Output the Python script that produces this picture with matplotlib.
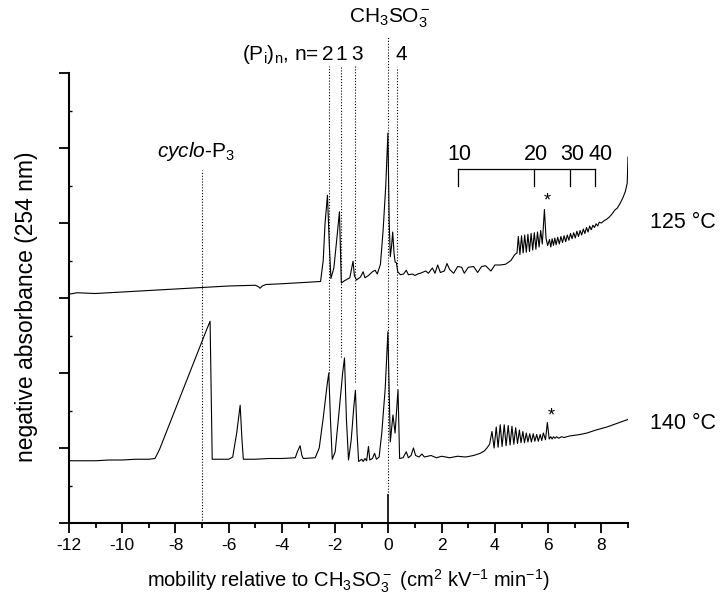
import matplotlib
matplotlib.use('Agg')
import matplotlib.pyplot as plt
from matplotlib.ticker import MultipleLocator

# Fonts: Arial-like text everywhere, mathtext in the same face
plt.rcParams['font.family'] = ['Liberation Sans', 'DejaVu Sans']
plt.rcParams['mathtext.fontset'] = 'custom'
plt.rcParams['mathtext.rm'] = 'Liberation Sans'
plt.rcParams['mathtext.it'] = 'Liberation Sans:italic'
plt.rcParams['mathtext.default'] = 'regular'
plt.rcParams['axes.unicode_minus'] = False

# Electropherogram at 125 °C (mobility, signal)
mob_125 = [-12.0, -11.7, -11.0, -10.0, -9.0, -8.0, -7.0, -6.0, -5.0, -4.88, -4.82, -4.74,
           -4.6, -4.0, -3.0, -2.55, -2.45, -2.38, -2.29, -2.22, -2.16, -2.05, -1.95, -1.84,
           -1.8, -1.77, -1.65, -1.45, -1.38, -1.33, -1.28, -1.2, -1.05, -0.95, -0.88, -0.75,
           -0.6, -0.5, -0.42, -0.3, -0.2, -0.1, -0.02, 0.03, 0.07, 0.12, 0.16, 0.21, 0.25,
           0.3, 0.35, 0.45, 0.57, 0.67, 0.75, 0.9, 1.0, 1.1, 1.2, 1.4, 1.5, 1.65, 1.75, 1.85,
           1.95, 2.1, 2.2, 2.3, 2.45, 2.6, 2.75, 2.85, 3.0, 3.2, 3.35, 3.5, 3.65, 3.85, 4.0,
           4.2, 4.4, 4.6, 4.75, 4.83, 4.88, 4.94, 5.0, 5.06, 5.12, 5.18, 5.24, 5.3, 5.36,
           5.42, 5.48, 5.54, 5.6, 5.66, 5.72, 5.78, 5.86, 5.92, 5.98, 6.05, 6.1, 6.15, 6.2,
           6.25, 6.3, 6.36, 6.42, 6.48, 6.54, 6.6, 6.66, 6.72, 6.78, 6.84, 6.9, 6.96, 7.02,
           7.08, 7.14, 7.2, 7.26, 7.32, 7.38, 7.44, 7.5, 7.56, 7.62, 7.68, 7.74, 7.8, 7.86,
           7.92, 8.0, 8.1, 8.2, 8.3, 8.4, 8.5, 8.6, 8.7, 8.8, 8.9, 8.97, 9.0]
abs_125 = [3.05, 3.07, 3.06, 3.08, 3.10, 3.12, 3.14, 3.16, 3.17, 3.15, 3.13, 3.16,
           3.18, 3.19, 3.21, 3.22, 3.5, 4.0, 4.37, 3.7, 3.26, 3.4, 3.75, 4.15,
           3.6, 3.2, 3.23, 3.27, 3.4, 3.49, 3.3, 3.24, 3.28, 3.35, 3.27, 3.3,
           3.35, 3.37, 3.32, 3.45, 3.9, 4.5, 5.2, 4.0, 3.55, 3.7, 3.88, 3.6, 3.48,
           3.47, 3.35, 3.31, 3.32, 3.37, 3.31, 3.32, 3.3, 3.32, 3.33, 3.36, 3.33, 3.40, 3.33, 3.44,
           3.34, 3.36, 3.46, 3.38, 3.33, 3.42, 3.41, 3.33, 3.41, 3.42, 3.34, 3.42, 3.43, 3.36, 3.44,
           3.44, 3.45, 3.5, 3.58, 3.6, 3.82, 3.58, 3.83, 3.6, 3.84, 3.61, 3.85, 3.62, 3.86,
           3.64, 3.87, 3.65, 3.88, 3.68, 3.9, 3.72, 4.18, 3.8, 3.7, 3.78, 3.68, 3.79, 3.7,
           3.8, 3.71, 3.81, 3.72, 3.82, 3.74, 3.83, 3.75, 3.84, 3.77, 3.86, 3.79, 3.87, 3.8,
           3.89, 3.82, 3.9, 3.84, 3.92, 3.86, 3.94, 3.88, 3.96, 3.91, 3.97, 3.94, 3.99, 3.96,
           4.01, 4.0, 4.03, 4.05, 4.08, 4.12, 4.17, 4.2, 4.26, 4.33, 4.42, 4.53, 4.88]

# Electropherogram at 140 °C
mob_140 = [-12.0, -11.0, -10.5, -10.0, -9.5, -9.0, -8.77, -8.6, -8.08, -7.45, -6.95, -6.85,
           -6.7, -6.62, -6.0, -5.85, -5.7, -5.57, -5.5, -5.45, -5.0, -4.5, -4.0, -3.5, -3.42,
           -3.32, -3.25, -3.2, -2.75, -2.6, -2.45, -2.3, -2.24, -2.18, -2.11, -2.0, -1.85,
           -1.72, -1.65, -1.58, -1.5, -1.4, -1.3, -1.24, -1.18, -1.12, -1.0, -0.95, -0.88,
           -0.82, -0.75, -0.7, -0.6, -0.52, -0.45, -0.35, -0.25, -0.12, -0.02, 0.07, 0.17,
           0.25, 0.36, 0.42, 0.55, 0.67, 0.75, 0.85, 0.94, 1.02, 1.15, 1.26, 1.35, 1.6, 1.8,
           2.0, 2.3, 2.6, 2.9, 3.2, 3.45, 3.6, 3.7, 3.8, 3.89, 3.97, 4.05, 4.12, 4.2, 4.27,
           4.35, 4.42, 4.5, 4.57, 4.64, 4.71, 4.78, 4.85, 4.92, 4.98, 5.05, 5.11, 5.18, 5.24,
           5.31, 5.37, 5.44, 5.5, 5.57, 5.63, 5.7, 5.76, 5.82, 5.9, 5.97, 6.04, 6.1, 6.15,
           6.2, 6.26, 6.32, 6.4, 6.5, 6.6, 6.8, 7.0, 7.2, 7.46, 7.8, 8.21, 8.6, 8.99]
abs_140 = [0.83, 0.83, 0.84, 0.84, 0.85, 0.85, 0.86, 0.98, 1.45, 2.02, 2.47, 2.56,
           2.69, 0.85, 0.85, 0.88, 1.2, 1.57, 1.1, 0.85, 0.85, 0.86, 0.86, 0.87, 0.95,
           1.03, 0.9, 0.86, 0.87, 1.0, 1.4, 1.85, 2.0, 1.4, 0.85, 0.95, 1.5,
           2.0, 2.2, 1.4, 0.84, 1.1, 1.55, 1.77, 1.2, 0.82, 0.85, 0.82, 0.86,
           0.83, 1.02, 0.84, 0.86, 0.93, 0.85, 0.88, 1.2, 1.8, 2.55, 1.08, 1.44,
           1.2, 1.78, 0.86, 0.87, 0.95, 0.87, 0.9, 1.0, 0.9, 0.88, 0.92, 0.88, 0.9, 0.87,
           0.89, 0.87, 0.89, 0.88, 0.9, 0.93, 0.96, 1.0, 1.05, 1.22, 1.0, 1.28, 1.01, 1.31, 1.02,
           1.31, 1.03, 1.3, 1.04, 1.29, 1.05, 1.27, 1.06, 1.24, 1.07, 1.22, 1.07, 1.2, 1.08,
           1.19, 1.08, 1.19, 1.09, 1.18, 1.09, 1.18, 1.1, 1.2, 1.11, 1.34, 1.12, 1.15, 1.12,
           1.15, 1.13, 1.15, 1.13, 1.15, 1.14, 1.16, 1.17, 1.18, 1.2, 1.24, 1.28, 1.33, 1.38]

# Short marker trace at the reference position
ref_mob = [0.0, 0.0]
ref_abs = [0.0, 0.37]

# Peak assignments: dotted guide lines (position, bottom, top)
cyclo_pos, cyclo_bottom, cyclo_top = -7.0, 0.0, 4.71
pn_labels = ['2', '1', '3']
pn_pos = [-2.25, -1.80, -1.27]
pn_label_pos = [-2.28, -1.79, -1.19]
pn_bottom = [2.0, 2.21, 1.88]
pn_top = 6.1
ch3so3_pos, ch3so3_bottom, ch3so3_top = 0.0, 0.37, 6.48
p4_pos, p4_bottom, p4_top = 0.33, 1.84, 6.08

# Chain-length scale for the long polyphosphates
chain_lengths = ['10', '20', '30', '40']
chain_pos = [2.60, 5.47, 6.83, 7.77]
chain_label_pos = [2.66, 5.56, 6.90, 7.96]

fig = plt.figure(figsize=(7.2, 6.06), dpi=100)
ax = fig.add_axes([69 / 720, 83 / 606, 559 / 720, 450 / 606])

# Traces
ax.plot(mob_125, abs_125, color='k', lw=0.8)
ax.plot(mob_140, abs_140, color='k', lw=0.8)
ax.plot(ref_mob, ref_abs, color='k', lw=1.2)

# Dotted guide lines
dot = dict(color='k', lw=0.8, linestyle=(0, (1, 1.6)), clip_on=False)
ax.plot([cyclo_pos, cyclo_pos], [cyclo_bottom, cyclo_top], **dot)
for pos, bot in zip(pn_pos, pn_bottom):
    ax.plot([pos, pos], [bot, pn_top], **dot)
ax.plot([ch3so3_pos, ch3so3_pos], [ch3so3_bottom, ch3so3_top], **dot)
ax.plot([p4_pos, p4_pos], [p4_bottom, p4_top], **dot)

# Labels of the assigned peaks
ax.text(-8.69, 4.88, r'$\mathit{cyclo}$-P$_3$', fontsize=15, ha='left', va='baseline')
ax.text(-2.62, 6.17, r'(P$_\mathrm{i}$)$_\mathrm{n}$, n=', fontsize=15,
        ha='right', va='baseline', clip_on=False)
for lab, pos in zip(pn_labels, pn_label_pos):
    ax.text(pos, 6.17, lab, fontsize=15, ha='center', va='baseline', clip_on=False)
ax.text(0.48, 6.17, '4', fontsize=15, ha='center', va='baseline', clip_on=False)
ax.text(0.07, 6.67, r'CH$_3$SO$_3^-$', fontsize=15, ha='center', va='baseline',
        clip_on=False)

# Chain-length bracket
ax.plot([chain_pos[0], chain_pos[-1]], [4.716, 4.716], color='k', lw=0.9)
for pos, lab, lpos in zip(chain_pos, chain_lengths, chain_label_pos):
    ax.plot([pos, pos], [4.716, 4.49], color='k', lw=0.9)
    ax.text(lpos, 4.84, lab, fontsize=15.5, ha='center', va='baseline')

# System peaks
ax.text(5.98, 4.30, '*', fontsize=13, ha='center', va='center')
ax.text(6.11, 1.43, '*', fontsize=13, ha='center', va='center')

# Temperatures
ax.text(9.84, 4.0, '125 °C', fontsize=15.5, ha='left', va='center')
ax.text(9.84, 1.33, '140 °C', fontsize=15.5, ha='left', va='center')

# Axes
ax.set_xlim(-12, 9)
ax.set_ylim(0, 6)
ax.spines['top'].set_visible(False)
ax.spines['right'].set_visible(False)
ax.spines['left'].set_linewidth(1.5)
ax.spines['bottom'].set_linewidth(1.5)

ax.xaxis.set_major_locator(MultipleLocator(2))
ax.xaxis.set_minor_locator(MultipleLocator(1))
ax.yaxis.set_major_locator(MultipleLocator(1))
ax.yaxis.set_minor_locator(MultipleLocator(0.5))
ax.tick_params(axis='x', which='major', direction='out', length=7, width=1.3,
               labelsize=12.5, pad=4)
ax.tick_params(axis='x', which='minor', direction='out', length=3.5, width=1.3)
ax.tick_params(axis='y', which='major', direction='out', length=7, width=1.3,
               labelleft=False)
ax.tick_params(axis='y', which='minor', direction='in', length=2.5, width=1.0)

ax.set_xlabel(r'mobility relative to CH$_3$SO$_3^-$ (cm$^2$ kV$^{-1}$ min$^{-1}$)',
              fontsize=14.5)
ax.xaxis.set_label_coords(0.5, -0.1)
ax.set_ylabel('negative absorbance (254 nm)', fontsize=16.5)
ax.yaxis.set_label_coords(-0.055, 0.48)

fig.savefig('out.png', dpi=100)
